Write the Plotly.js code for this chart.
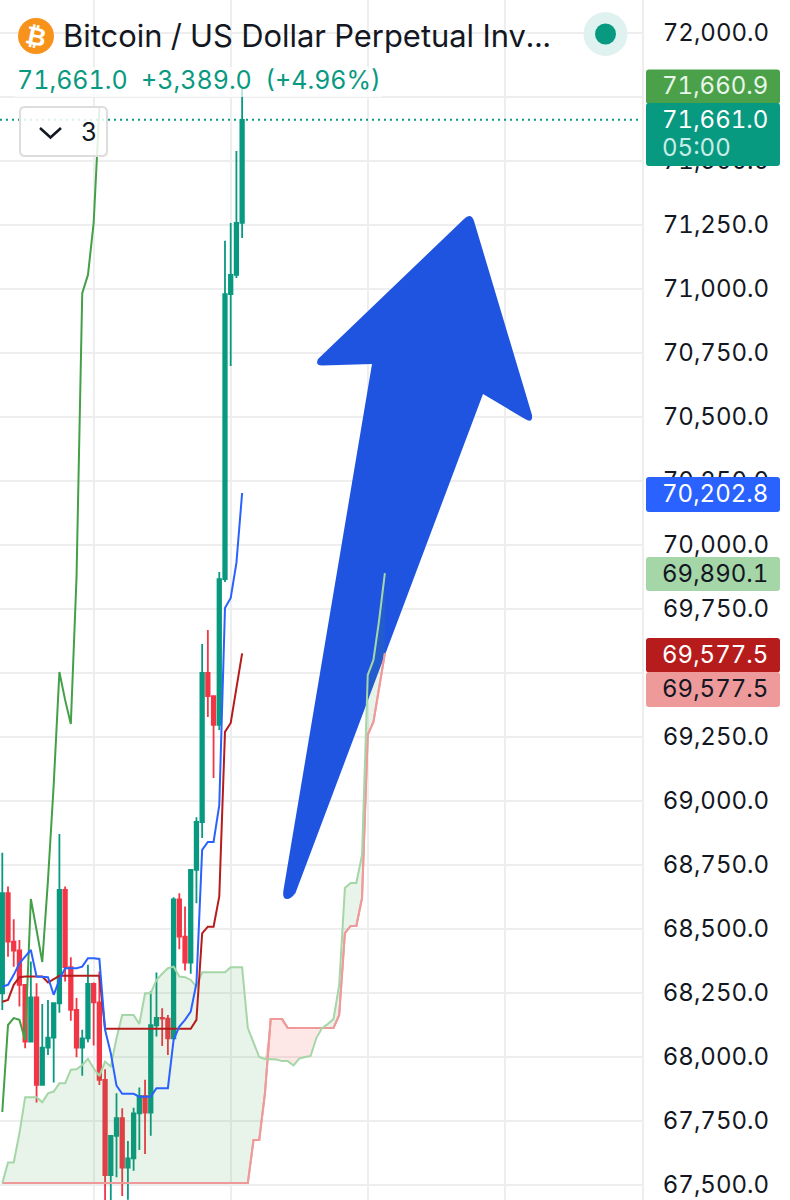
<!DOCTYPE html>
<html>
<head>
<meta charset="utf-8">
<script src="https://cdn.plot.ly/plotly-3.0.1.min.js"></script>
<style>
html,body{margin:0;padding:0;background:#fff}
svg text{font-feature-settings:"tnum" 1;font-variant-numeric:tabular-nums}
</style>
</head>
<body>
<div id="chart" style="width:790px;height:1200px"></div>
<script>
// Candles (bar index = array position)
let open = [68249,68640,68451,68416,68282,68060,68233,67891,68037,68076,68210,68653,68351,68184,68037,68073,68286,68213,67911,67539,67692,67761,67568,67604,67780,67848,67783,68124,68153,68150,68073,68616,68470,68369,68731,68918,69500,69410,69297,69867,70980,71055,71258];
let high = [68798,68666,68538,68457,68282,68373,68288,68207,68223,68210,68871,68666,68390,68230,68106,68360,68291,68334,67952,67692,67858,67800,67672,67802,67881,67911,68258,68330,68190,68164,68624,68640,68588,68731,68937,69613,69668,69410,69895,71188,71258,71539,71785];
let low = [68184,68392,68353,68197,68034,68060,67822,67891,68008,67900,68173,68295,68142,67999,67927,68058,68045,67891,67430,67429,67530,67457,67442,67556,67637,67621,67692,68080,68043,68008,68073,68421,68338,68325,68601,68855,69328,69090,69277,69855,70699,71043,71199];
let close = [68640,68451,68416,68282,68060,68233,67891,68037,68076,68210,68653,68351,68184,68037,68073,68286,68213,67911,67539,67692,67761,67568,67604,67780,67848,67783,68124,68153,68150,68073,68616,68470,68369,68731,68918,69500,69410,69297,69867,70980,71055,71258,71661];

// Ichimoku lines
let conversion = [68275,68282,68321,68366,68392,68418,68314,68312,68312,68243,68301,68347,68347,68347,68353,68386,68386,68383,68106,68015,67888,67856,67856,67856,67845,67845,67845,67878,67878,67878,68067,68119,68145,68177,68288,68809,68840,68840,68984,69754,69793,69930,70203];
let base = [68216,68223,68282,68312,68314,68314,68314,68314,68291,68304,68317,68317,68317,68317,68317,68317,68317,68317,68110,68110,68110,68110,68110,68110,68110,68110,68110,68110,68110,68110,68110,68110,68110,68110,68145,68483,68509,68509,68627,69270,69305,69434,69577];
let lagging = [67785,68125,68152,68145,68066,68617,68496,68371,68691,69063,69504,69395,69301,69875,70984,71055,71258,71707];
let spanA = [67507,67588,67588,67702,67843,67843,67843,67823,67858,67865,67897,67897,67950,67952,67969,67993,67956,67926,67982,67963,68073,68164,68164,68164,68129,68249,68249,68301,68325,68347,68353,68314,68312,68301,68275,68331,68331,68331,68331,68331,68351,68351,68351,68113,68059,68000,67992,67992,67990,67984,67984,67967,67994,68000,68004,68074,68113,68129,68148,68281,68660,68680,68680,68789,69492,69551,69707,69890];
let spanB = [67508,67508,67508,67508,67508,67508,67508,67508,67508,67508,67508,67508,67508,67508,67508,67508,67508,67508,67508,67508,67508,67508,67508,67508,67508,67508,67508,67508,67508,67508,67508,67508,67508,67508,67508,67508,67508,67508,67508,67508,67508,67508,67508,67508,67676,67676,67859,68148,68148,68148,68113,68113,68113,68113,68113,68113,68113,68113,68113,68164,68484,68512,68512,68621,69258,69309,69441,69577];

let yTicks = [67500,67750,68000,68250,68500,68750,69000,69250,69500,69750,70000,70250,70500,70750,71000,71250,71500,71750,72000];
let xGrid = [16,40,64,88];
let lastPrice = 71661;

function indices(a) { return a.map((v, i) => i); }

let upper = spanA.map((v, i) => Math.max(v, spanB[i]));

// page pixel helpers for the overlay furniture
function fx(x) { return x / 790; }
function fy(y) { return 1 - y / 1200; }
function dx(x) { return (x - 2.3) / 5.71; }
function dy(y) { return 72000 - (y - 33) * 3.90625; }

function roundRect(x0, y0, x1, y1, r) {
    let p = (x, y) => fx(x) + ' ' + fy(y);
    return 'M' + p(x0 + r, y0) + ' L' + p(x1 - r, y0) + ' Q' + p(x1, y0) + ' ' + p(x1, y0 + r) +
        ' L' + p(x1, y1 - r) + ' Q' + p(x1, y1) + ' ' + p(x1 - r, y1) +
        ' L' + p(x0 + r, y1) + ' Q' + p(x0, y1) + ' ' + p(x0, y1 - r) +
        ' L' + p(x0, y0 + r) + ' Q' + p(x0, y0) + ' ' + p(x0 + r, y0) + ' Z';
}

function arrowPath() {
    let p = (x, y) => dx(x) + ' ' + dy(y);
    return 'M' + p(283.5, 890) + ' L' + p(372, 364) + ' L' + p(322, 365.5) + ' Q' + p(315, 365.5) + ' ' + p(318, 359) +
        ' L' + p(464, 219) + ' Q' + p(471, 212) + ' ' + p(474, 221) +
        ' L' + p(532, 415) + ' Q' + p(533, 424) + ' ' + p(525, 419) +
        ' L' + p(483, 394) + ' L' + p(295.5, 893) + ' Q' + p(291, 899) + ' ' + p(287, 899) +
        ' Q' + p(282, 899) + ' ' + p(283.5, 890) + ' Z';
}

// Traces
let candles = {
    type: 'candlestick',
    x: indices(open),
    open: open,
    high: high,
    low: low,
    close: close,
    increasing: { line: { color: '#089981', width: 1.8 }, fillcolor: '#089981' },
    decreasing: { line: { color: '#F23645', width: 1.8 }, fillcolor: '#F23645' },
    showlegend: false,
};

function lineTrace(y, color) {
    return { type: 'scatter', mode: 'lines', x: indices(y), y: y, line: { color: color, width: 2 }, showlegend: false };
}

let bLine = lineTrace(spanB, '#EF9A9A');
let greenFill = {
    type: 'scatter', mode: 'lines', x: indices(upper), y: upper, line: { width: 0, color: 'rgba(0,0,0,0)' },
    fill: 'tonexty', fillcolor: 'rgba(67,160,71,0.12)', showlegend: false,
};
let aBase = { type: 'scatter', mode: 'lines', x: indices(spanA), y: spanA, line: { width: 0, color: 'rgba(0,0,0,0)' }, showlegend: false };
let redFill = {
    type: 'scatter', mode: 'lines', x: indices(upper), y: upper, line: { width: 0, color: 'rgba(0,0,0,0)' },
    fill: 'tonexty', fillcolor: 'rgba(244,67,54,0.12)', showlegend: false,
};

let data = [
    candles,
    bLine,
    greenFill,
    aBase,
    redFill,
    lineTrace(spanB, '#EF9A9A'),
    lineTrace(spanA, '#A5D6A7'),
    lineTrace(lagging, '#43A047'),
    lineTrace(base, '#B71C1C'),
    lineTrace(conversion, '#2962FF'),
];

let sans = 'Inter, "Noto Sans", sans-serif';

function label(x, y, text, size, color, extra) {
    return Object.assign({
        xref: 'paper', yref: 'paper', x: fx(x), y: fy(y), text: text, showarrow: false,
        xanchor: 'left', yanchor: 'middle', font: { family: sans, size: size, color: color },
    }, extra || {});
}

function box(x0, y0, x1, y1, r, fill) {
    return { type: 'path', xref: 'paper', yref: 'paper', layer: 'above', path: roundRect(x0, y0, x1, y1, r), fillcolor: fill, line: { width: 0 } };
}

let shapes = [
    // the hand-drawn arrow sits above the grid and under the indicator lines
    { type: 'path', xref: 'x', yref: 'y', layer: 'between', path: arrowPath(), fillcolor: '#1F54E0', line: { width: 0 } },
    // last price line
    { type: 'line', xref: 'paper', yref: 'y', x0: 0, x1: fx(642), y0: lastPrice, y1: lastPrice, layer: 'above',
        line: { color: '#089981', width: 2, dash: '2px,4px' } },
    // legend backing
    box(15, 67, 382, 97, 0, 'rgba(255,255,255,0.7)'),
    { type: 'circle', xref: 'paper', yref: 'paper', layer: 'above', x0: fx(18), x1: fx(54), y0: fy(54), y1: fy(18), fillcolor: '#F7931A', line: { width: 0 } },
    { type: 'circle', xref: 'paper', yref: 'paper', layer: 'above', x0: fx(583.5), x1: fx(627.5), y0: fy(56), y1: fy(12), fillcolor: '#E0F2EF', line: { width: 0 } },
    { type: 'circle', xref: 'paper', yref: 'paper', layer: 'above', x0: fx(595), x1: fx(616), y0: fy(44.5), y1: fy(23.5), fillcolor: '#089981', line: { width: 0 } },
    // collapsed indicators button
    { type: 'path', xref: 'paper', yref: 'paper', layer: 'above', path: roundRect(20, 107, 107, 156, 5), fillcolor: 'rgba(255,255,255,0.85)', line: { color: '#DDDDDD', width: 2 } },
    { type: 'path', xref: 'paper', yref: 'paper', layer: 'above',
        path: 'M' + fx(40) + ' ' + fy(128) + ' L' + fx(50.5) + ' ' + fy(137.5) + ' L' + fx(61) + ' ' + fy(128),
        line: { color: '#131722', width: 2.6 } },
    // price tags on the axis
    box(646, 69.5, 780, 104, 3, '#4BA14A'),
    box(646, 103, 780, 166, 3, '#089981'),
    box(646, 477, 780, 512, 3, '#2962FF'),
    box(646, 557, 780, 591, 3, '#A5D6A7'),
    box(646, 638, 780, 672.5, 3, '#B71C1C'),
    box(646, 672, 780, 707, 3, '#EF9A9A'),
];

let annotations = [
    label(61, 35, 'Bitcoin / US Dollar Perpetual Inv...', 30.9, '#131722'),
    label(15, 80, '71,661.0  +3,389.0  (+4.96%)', 25, '#089981'),
    label(79, 132, '3', 25, '#131722'),
    label(36, 36, '<b>₿</b>', 25, '#FFFFFF', { xanchor: 'center', textangle: 12, font: { family: '"DejaVu Sans", sans-serif', size: 25, color: '#FFFFFF' } }),
    label(660, 85.5, '71,660.9', 24, '#E8F5E9'),
    label(660, 120, '71,661.0', 24, '#FFFFFF'),
    label(660, 148, '05:00', 24, '#C8EDE6'),
    label(660, 494, '70,202.8', 24, '#FFFFFF'),
    label(660, 573, '69,890.1', 24, '#131722'),
    label(660, 654.5, '69,577.5', 24, '#FFFFFF'),
    label(660, 688.5, '69,577.5', 24, '#131722'),
];

let layout = {
    width: 790,
    height: 1200,
    margin: { l: 0, r: 0, t: 0, b: 0, pad: 0 },
    paper_bgcolor: '#FFFFFF',
    plot_bgcolor: '#FFFFFF',
    boxgap: 0.39,
    boxgroupgap: 0,
    hovermode: false,
    showlegend: false,
    xaxis: {
        type: 'linear',
        domain: [0, 642 / 790],
        range: [dx(0), dx(642)],
        rangeslider: { visible: false },
        tickmode: 'array',
        tickvals: xGrid,
        showticklabels: false,
        ticks: '',
        showgrid: true,
        gridcolor: '#EEEEEE',
        gridwidth: 2,
        zeroline: false,
    },
    yaxis: {
        side: 'right',
        range: [dy(1200), dy(0)],
        tickmode: 'array',
        tickvals: yTicks,
        tickformat: ',.1f',
        ticks: '',
        ticklabelstandoff: 14,
        tickfont: { family: sans, size: 24, color: '#131722' },
        showgrid: true,
        gridcolor: '#EEEEEE',
        gridwidth: 2,
        zeroline: false,
        showline: true,
        linecolor: '#EEEEEE',
        linewidth: 2,
    },
    shapes: shapes,
    annotations: annotations,
};

Plotly.newPlot('chart', data, layout, { staticPlot: true, displayModeBar: false });
</script>
</body>
</html>
